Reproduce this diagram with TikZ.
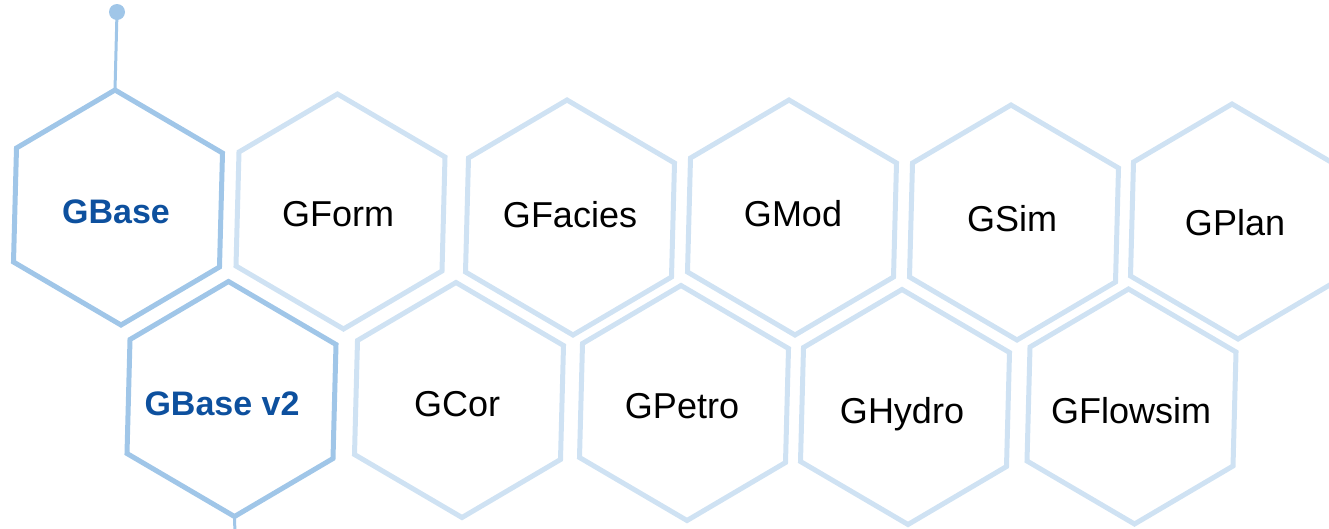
\documentclass[tikz,border=0pt]{standalone}
\usepackage{fontspec}
\setmainfont{Liberation Sans}
\definecolor{hexdark}{RGB}{160,198,232}
\definecolor{hexlight}{RGB}{207,226,243}
\definecolor{titleblue}{RGB}{13,80,158}
\tikzset{
  hexmain/.style={draw=hexdark, line width=5pt},
  hexsoft/.style={draw=hexlight, line width=5pt},
  lbl/.style={anchor=base, font=\fontsize{36}{40}\selectfont, text=black, inner sep=0pt},
  lblbold/.style={anchor=base, font=\fontsize{34}{40}\selectfont\bfseries, text=titleblue, inner sep=0pt},
  stem/.style={draw=hexdark, line width=3pt},
}
\newcommand\hexat[2]{%
  \draw[#1, shift={(#2)}] (-3,-117.5) -- (104.5,-54.5) -- (101.5,59.5) -- (3,117.5) -- (-104.5,54.5) -- (-101.5,-59.5) -- cycle;}
\begin{document}
\begin{tikzpicture}[x=1pt,y=-1pt]
\useasboundingbox (0,0) rectangle (1329,528);
\clip (0,0) rectangle (1329,528);
% top row
\hexat{hexmain}{118,207.5}
\hexat{hexsoft}{340.5,211.5}
\hexat{hexsoft}{570,217.5}
\hexat{hexsoft}{792,217.5}
\hexat{hexsoft}{1014,222.5}
\hexat{hexsoft}{1235,221.5}
% bottom row
\hexat{hexmain}{231.5,399}
\hexat{hexsoft}{459,400}
\hexat{hexsoft}{684,403}
\hexat{hexsoft}{905,407}
\hexat{hexsoft}{1131.5,406.5}
% labels
\node[lblbold] (gbase) at (116,223) {GBase};
\node[lbl] (gform) at (338,226) {GForm};
\node[lbl] (gfacies) at (570,227) {GFacies};
\node[lbl] (gmod) at (793,226) {GMod};
\node[lbl] (gsim) at (1012,231) {GSim};
\node[lbl] (gplan) at (1235,235) {GPlan};
\node[lblbold] (gbasev) at (222,415) {GBase v2};
\node[lbl] (gcor) at (457,416) {GCor};
\node[lbl] (gpetro) at (682,418) {GPetro};
\node[lbl] (ghydro) at (902,423) {GHydro};
\node[lbl] (gflow) at (1131,423) {GFlowsim};
% stems
\coordinate (topvertex) at (115,90);
\node[circle, fill=hexdark, minimum size=16pt, inner sep=0pt] (dot) at (117,12) {};
\draw[stem] (topvertex) -- (dot.center);
\coordinate (botvertex) at (234.5,516.5);
\coordinate (botend) at (235,535);
\draw[stem] (botvertex) -- (botend);
\end{tikzpicture}
\end{document}
